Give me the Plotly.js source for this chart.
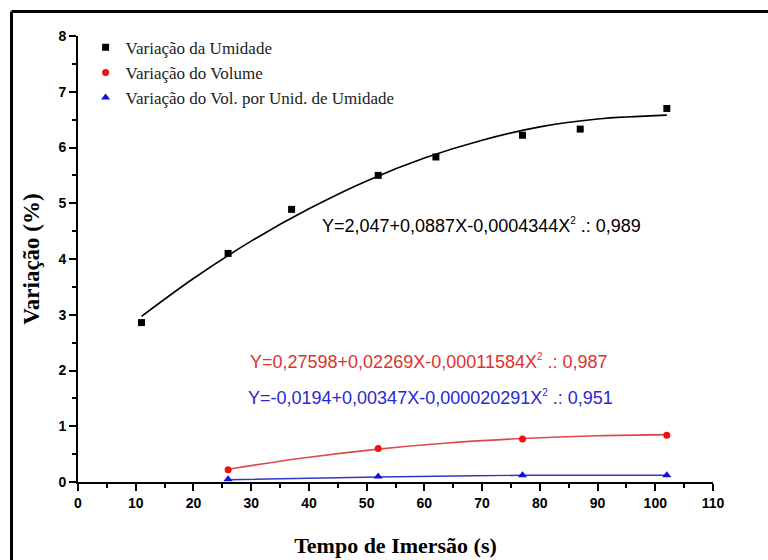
<!DOCTYPE html>
<html>
<head>
<meta charset="utf-8">
<script src="https://cdn.plot.ly/plotly-3.0.1.min.js"></script>
<style>
    html, body { margin: 0; padding: 0; background: #ffffff; }
    #chart { width: 768px; height: 560px; }
</style>
</head>
<body>
<div id="chart"></div>
<script>
const timeUmidade = [11, 26, 37, 52, 62, 77, 87, 102];
const varUmidade = [2.86, 4.10, 4.89, 5.50, 5.83, 6.22, 6.33, 6.70];

const timeVolume = [26, 52, 77, 102];
const varVolume = [0.22, 0.60, 0.77, 0.84];
const varVolUnid = [0.05, 0.10, 0.12, 0.12];

// Fitted curves
const fitUmidadeX = [11, 20, 30, 40, 50, 60, 70, 80, 90, 102];
const fitUmidadeY = [2.97, 3.65, 4.32, 4.90, 5.40, 5.81, 6.13, 6.37, 6.51, 6.58];
const fitVolumeX = [26, 39, 52, 64, 77, 90, 102];
const fitVolumeY = [0.23, 0.43, 0.59, 0.70, 0.78, 0.83, 0.85];
const fitVolUnidX = [26, 52, 77, 102];
const fitVolUnidY = [0.04, 0.09, 0.12, 0.12];

const legendNames = [
    'Variação da Umidade',
    'Variação do Volume',
    'Variação do Vol. por Unid. de Umidade'
];

const equations = [
    { text: 'Y=2,047+0,0887X-0,0004344X<sup><span style="font-size:10px">2</span></sup> .: 0,989', color: '#000000', x: 42, y: 4.6 },
    { text: 'Y=0,27598+0,02269X-0,00011584X<sup><span style="font-size:10px">2</span></sup> .: 0,987', color: '#e03030', x: 29.4, y: 2.16 },
    { text: 'Y=-0,0194+0,00347X-0,000020291X<sup><span style="font-size:10px">2</span></sup> .: 0,951', color: '#2828d0', x: 29.1, y: 1.51 }
];

const SERIF = '"Liberation Serif", "Times New Roman", serif';
const SANS = '"Liberation Sans", Arial, sans-serif';

const traces = [
    {
        type: 'scatter', mode: 'lines', x: fitUmidadeX, y: fitUmidadeY,
        line: { color: '#000000', width: 1.6, shape: 'spline' },
        showlegend: false, hoverinfo: 'skip'
    },
    {
        type: 'scatter', mode: 'lines', x: fitVolumeX, y: fitVolumeY,
        line: { color: '#e04848', width: 1.6, shape: 'spline' },
        showlegend: false, hoverinfo: 'skip'
    },
    {
        type: 'scatter', mode: 'lines', x: fitVolUnidX, y: fitVolUnidY,
        line: { color: '#3434c8', width: 1.4, shape: 'spline' },
        showlegend: false, hoverinfo: 'skip'
    },
    {
        type: 'scatter', mode: 'markers', x: timeUmidade, y: varUmidade,
        name: legendNames[0],
        marker: { symbol: 'square', size: 7, color: '#000000' }
    },
    {
        type: 'scatter', mode: 'markers', x: timeVolume, y: varVolume,
        name: legendNames[1],
        marker: { symbol: 'circle', size: 7, color: '#ee1111' }
    },
    {
        type: 'scatter', mode: 'markers', x: timeVolume, y: varVolUnid,
        name: legendNames[2],
        marker: { symbol: 'triangle-up', size: 8, color: '#1010dd' }
    }
];

const axisCommon = {
    showgrid: false,
    zeroline: false,
    showline: true,
    linecolor: '#000000',
    linewidth: 2,
    ticks: 'outside',
    ticklen: 7,
    tickwidth: 2,
    tickcolor: '#000000',
    tickfont: { family: SANS, size: 14, color: '#000000', weight: 'bold' },
    minor: { ticks: 'outside', ticklen: 4, tickwidth: 1.5, tickcolor: '#000000' }
};

const layout = {
    width: 768,
    height: 560,
    paper_bgcolor: '#ffffff',
    plot_bgcolor: '#ffffff',
    margin: { l: 78, r: 55, t: 36, b: 78 },
    showlegend: true,
    legend: {
        x: 0.012, y: 1.014, xanchor: 'left', yanchor: 'top',
        bgcolor: 'rgba(0,0,0,0)',
        font: { family: SERIF, size: 17, color: '#222222' },
        tracegroupgap: 0
    },
    xaxis: Object.assign({}, axisCommon, {
        range: [0, 110],
        dtick: 10,
        minor: Object.assign({}, axisCommon.minor, { dtick: 5 }),
        title: {
            text: 'Tempo de Imersão (s)',
            font: { family: SERIF, size: 22, color: '#000000', weight: 'bold' },
            standoff: 28
        }
    }),
    yaxis: Object.assign({}, axisCommon, {
        range: [0, 8],
        dtick: 1,
        minor: Object.assign({}, axisCommon.minor, { dtick: 0.5 }),
        title: {
            text: 'Variação (%)',
            font: { family: SERIF, size: 23, color: '#000000', weight: 'bold' },
            standoff: 12
        }
    }),
    annotations: equations.map(eq => ({
        x: eq.x, y: eq.y, xref: 'x', yref: 'y',
        xanchor: 'left', yanchor: 'middle',
        text: eq.text, showarrow: false,
        font: { family: SANS, size: 18, color: eq.color }
    })),
    // figure frame (left and top edges only visible in the crop)
    shapes: [
        { type: 'line', xref: 'paper', yref: 'paper', x0: -0.1047, x1: 1.3, y0: 1.055, y1: 1.055,
          line: { color: '#000000', width: 3 } },
        { type: 'line', xref: 'paper', yref: 'paper', x0: -0.1047, x1: -0.1047, y0: 1.055, y1: -0.3,
          line: { color: '#000000', width: 3 } }
    ]
};

Plotly.newPlot('chart', traces, layout, { displayModeBar: false, responsive: false });
</script>
</body>
</html>
